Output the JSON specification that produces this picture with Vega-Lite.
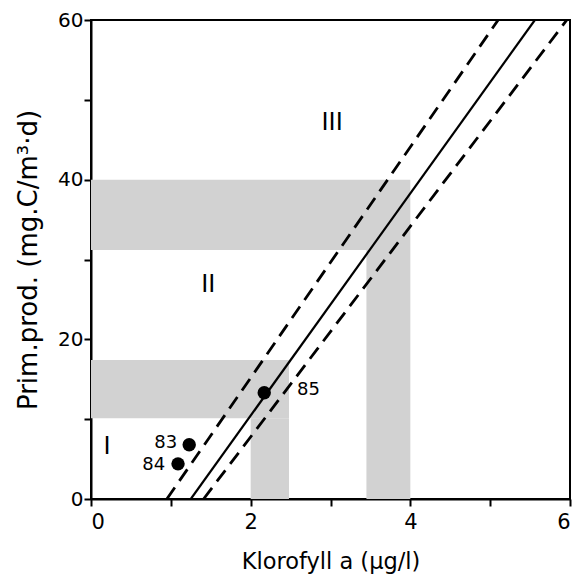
{
  "$schema": "https://vega.github.io/schema/vega-lite/v6.json",
  "autosize": "none",
  "padding": {"left": 91, "top": 20, "right": 7, "bottom": 76},
  "width": 479,
  "height": 479,
  "config": {
    "font": "DejaVu Sans",
    "view": {"stroke": "black", "strokeWidth": 2},
    "axis": {
      "grid": false,
      "domainColor": "black",
      "domainWidth": 2,
      "tickColor": "black",
      "tickWidth": 2,
      "tickSize": 7,
      "labelFont": "DejaVu Sans",
      "labelColor": "black",
      "titleFont": "DejaVu Sans",
      "titleFontWeight": "normal",
      "titleColor": "black"
    }
  },
  "datasets": {
    "shade": [
      {"x": 0, "x2": 4, "y": 31.2, "y2": 40},
      {"x": 3.45, "x2": 4, "y": 0, "y2": 31.2},
      {"x": 0, "x2": 2.48, "y": 10.1, "y2": 17.4},
      {"x": 2.0, "x2": 2.48, "y": 0, "y2": 10.1}
    ],
    "lines": [
      {"line": "fit", "x": 1.25, "y": 0},
      {"line": "fit", "x": 5.56, "y": 60},
      {"line": "upper", "x": 0.95, "y": 0},
      {"line": "upper", "x": 5.1, "y": 60},
      {"line": "lower", "x": 1.41, "y": 0},
      {"line": "lower", "x": 5.96, "y": 60}
    ],
    "points": [
      {"year": "83", "x": 1.23, "y": 6.8},
      {"year": "84", "x": 1.09, "y": 4.4},
      {"year": "85", "x": 2.17, "y": 13.3}
    ],
    "pointLabels": [
      {"label": "83", "x": 1.08, "y": 7.0, "align": "right"},
      {"label": "84", "x": 0.93, "y": 4.3, "align": "right"},
      {"label": "85", "x": 2.58, "y": 13.7, "align": "left"}
    ],
    "regions": [
      {"label": "I", "x": 0.2, "y": 6.5},
      {"label": "II", "x": 1.47, "y": 26.8},
      {"label": "III", "x": 3.02, "y": 47.1}
    ]
  },
  "encoding": {
    "x": {
      "type": "quantitative",
      "scale": {"domain": [0, 6], "nice": false, "zero": false},
      "axis": {
        "title": "Klorofyll a (μg/l)",
        "titleFontSize": 22.5,
        "labelFontSize": 21,
        "values": [0, 1, 2, 3, 4, 5, 6],
        "labelExpr": "datum.value % 2 === 0 ? datum.label : ''",
        "labelPadding": 5,
        "titlePadding": 18
      }
    },
    "y": {
      "type": "quantitative",
      "scale": {"domain": [0, 60], "nice": false, "zero": false},
      "axis": {
        "title": "Prim.prod. (mg.C/m³·d)",
        "titleFontSize": 26,
        "labelFontSize": 20,
        "values": [0, 10, 20, 30, 40, 50, 60],
        "labelExpr": "datum.value % 20 === 0 ? datum.label : ''",
        "labelPadding": 1,
        "titlePadding": 16
      }
    }
  },
  "layer": [
    {
      "data": {"name": "shade"},
      "mark": {"type": "rect", "fill": "#d2d2d2", "stroke": null},
      "encoding": {
        "x": {"field": "x", "type": "quantitative"},
        "x2": {"field": "x2"},
        "y": {"field": "y", "type": "quantitative"},
        "y2": {"field": "y2"}
      }
    },
    {
      "data": {"name": "lines"},
      "transform": [{"filter": "datum.line === 'fit'"}],
      "mark": {"type": "line", "color": "black", "strokeWidth": 2.2, "clip": true},
      "encoding": {
        "x": {"field": "x", "type": "quantitative"},
        "y": {"field": "y", "type": "quantitative"},
        "detail": {"field": "line"}
      }
    },
    {
      "data": {"name": "lines"},
      "transform": [{"filter": "datum.line !== 'fit'"}],
      "mark": {"type": "line", "color": "black", "strokeWidth": 2.8, "strokeDash": [14, 8], "clip": true},
      "encoding": {
        "x": {"field": "x", "type": "quantitative"},
        "y": {"field": "y", "type": "quantitative"},
        "detail": {"field": "line"}
      }
    },
    {
      "data": {"name": "points"},
      "mark": {"type": "circle", "color": "black", "opacity": 1, "size": 180},
      "encoding": {
        "x": {"field": "x", "type": "quantitative"},
        "y": {"field": "y", "type": "quantitative"}
      }
    },
    {
      "data": {"name": "pointLabels"},
      "transform": [{"filter": "datum.align === 'right'"}],
      "mark": {"type": "text", "align": "right", "baseline": "middle", "fontSize": 18, "color": "black"},
      "encoding": {
        "x": {"field": "x", "type": "quantitative"},
        "y": {"field": "y", "type": "quantitative"},
        "text": {"field": "label"}
      }
    },
    {
      "data": {"name": "pointLabels"},
      "transform": [{"filter": "datum.align === 'left'"}],
      "mark": {"type": "text", "align": "left", "baseline": "middle", "fontSize": 18, "color": "black"},
      "encoding": {
        "x": {"field": "x", "type": "quantitative"},
        "y": {"field": "y", "type": "quantitative"},
        "text": {"field": "label"}
      }
    },
    {
      "data": {"name": "regions"},
      "mark": {"type": "text", "align": "center", "baseline": "middle", "fontSize": 24, "color": "black"},
      "encoding": {
        "x": {"field": "x", "type": "quantitative"},
        "y": {"field": "y", "type": "quantitative"},
        "text": {"field": "label"}
      }
    }
  ]
}
